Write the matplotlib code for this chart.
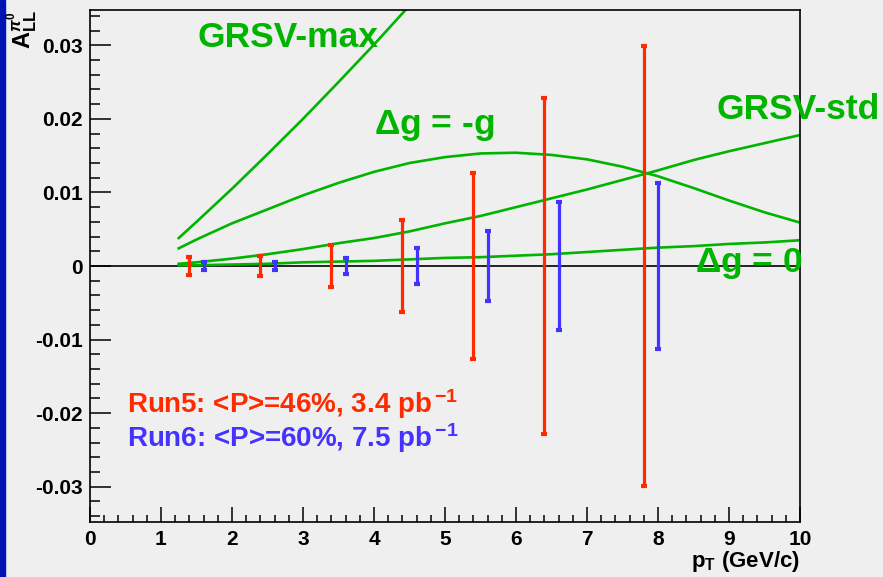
import matplotlib
matplotlib.use("Agg")
import matplotlib.pyplot as plt
from matplotlib.patches import Rectangle
from matplotlib.ticker import MultipleLocator


# theory curves
curve_pt = [1.25, 1.5, 2.0, 2.5, 3.0, 3.5, 4.0, 4.5, 5.0, 5.5,
            6.0, 6.5, 7.0, 7.5, 8.0, 8.5, 9.0, 9.5, 10.0]
grsv_max_pt = [1.25, 1.5, 2.0, 2.5, 3.0, 3.5, 4.0, 4.5]
grsv_max = [0.0038, 0.0060, 0.0105, 0.0152, 0.0200, 0.0250, 0.0301, 0.0354]
dg_minus_g = [0.0024, 0.0036, 0.0058, 0.0077, 0.0096, 0.0113, 0.0128, 0.0140, 0.0148, 0.0153,
              0.0154, 0.0151, 0.0145, 0.0135, 0.0122, 0.0106, 0.0089, 0.0073, 0.0059]
grsv_std = [0.0003, 0.0005, 0.0010, 0.0016, 0.0023, 0.0031, 0.0038, 0.0047, 0.0058, 0.0068,
            0.0080, 0.0092, 0.0104, 0.0117, 0.0130, 0.0144, 0.0156, 0.0167, 0.0178]
dg_zero = [0.0001, 0.0001, 0.0002, 0.0003, 0.0005, 0.0006, 0.0007, 0.0009, 0.0011, 0.0012,
           0.0014, 0.0016, 0.0019, 0.0022, 0.0025, 0.0027, 0.0030, 0.0032, 0.0035]

# projected uncertainties
run5_pt = [1.4, 2.4, 3.4, 4.4, 5.4, 6.4, 7.8]
run5_val = [0, 0, 0, 0, 0, 0, 0]
run5_err = [0.0012, 0.0013, 0.0028, 0.0063, 0.0126, 0.0229, 0.0299]
run6_pt = [1.6, 2.6, 3.6, 4.6, 5.6, 6.6, 8.0]
run6_val = [0, 0, 0, 0, 0, 0, 0]
run6_err = [0.00055, 0.0006, 0.0011, 0.0024, 0.0048, 0.0087, 0.0113]

run5_label = r"Run5: <P>=46%, 3.4 pb$^{\,\mathbf{-1}}$"
run6_label = r"Run6: <P>=60%, 7.5 pb$^{\,\mathbf{-1}}$"

GREEN = "#00b400"
RED = "#ff2a00"
BLUE = "#4433ff"
BG = "#efefef"

plt.rcParams["font.family"] = ["Liberation Sans", "DejaVu Sans"]
plt.rcParams["font.weight"] = "bold"
plt.rcParams["mathtext.fontset"] = "custom"
plt.rcParams["mathtext.rm"] = "Liberation Sans"
plt.rcParams["mathtext.bf"] = "Liberation Sans:bold"
plt.rcParams["mathtext.it"] = "Liberation Sans:italic"


def main():
    fig = plt.figure(figsize=(8.83, 5.77), dpi=100, facecolor=BG)
    ax = fig.add_axes([90 / 883, 55 / 577, 710 / 883, 512 / 577], facecolor=BG)

    fig.patches.append(Rectangle((0, 0), 5 / 883, 1, transform=fig.transFigure,
                                 color="#0014b4", zorder=0))

    ax.axhline(0, color="black", lw=1.2, zorder=1)

    lw = 1.9
    ax.plot(grsv_max_pt, grsv_max, color=GREEN, lw=lw, zorder=2)
    ax.plot(curve_pt, dg_minus_g, color=GREEN, lw=lw, zorder=2)
    ax.plot(curve_pt, grsv_std, color=GREEN, lw=lw, zorder=2)
    ax.plot(curve_pt, dg_zero, color=GREEN, lw=lw, zorder=2)

    ax.errorbar(run5_pt, run5_val, yerr=run5_err, fmt="none", ecolor=RED,
                elinewidth=2.3, capsize=2.2, capthick=3, zorder=3)
    ax.errorbar(run6_pt, run6_val, yerr=run6_err, fmt="none", ecolor=BLUE,
                elinewidth=2.3, capsize=2.2, capthick=3, zorder=3)

    ax.set_xlim(0, 10)
    ax.set_ylim(-0.0348, 0.0348)

    ax.xaxis.set_major_locator(MultipleLocator(1))
    ax.xaxis.set_minor_locator(MultipleLocator(0.2))
    ax.yaxis.set_major_locator(MultipleLocator(0.01))
    ax.yaxis.set_minor_locator(MultipleLocator(0.002))
    ax.set_yticks([-0.03, -0.02, -0.01, 0, 0.01, 0.02, 0.03])
    ax.set_yticklabels(["-0.03", "-0.02", "-0.01", "0", "0.01", "0.02", "0.03"])

    ax.tick_params(axis="x", which="major", direction="in", length=10.5, width=1.1,
                   labelsize=15, pad=6)
    ax.tick_params(axis="x", which="minor", direction="in", length=5, width=1.1)
    ax.tick_params(axis="y", which="major", direction="in", length=15, width=1.1,
                   labelsize=15, pad=5)
    ax.tick_params(axis="y", which="minor", direction="in", length=7.2, width=1.1)
    for lab in ax.get_xticklabels() + ax.get_yticklabels():
        lab.set_fontweight("bold")

    for s in ax.spines.values():
        s.set_linewidth(1.2)

    # curve labels
    big = 25.5
    ax.text(1.51, 0.0298, "GRSV-max", color=GREEN, fontsize=big, fontweight="bold",
            va="baseline")
    ax.text(4.0, 0.0180, r"$\Delta$g = -g", color=GREEN, fontsize=big, fontweight="bold",
            va="baseline")
    ax.text(8.83, 0.0200, "GRSV-std", color=GREEN, fontsize=big, fontweight="bold",
            va="baseline", clip_on=False)
    ax.text(8.52, -0.00086, r"$\Delta$g = 0", color=GREEN, fontsize=big, fontweight="bold",
            va="baseline")

    ax.text(0.52, -0.0200, run5_label, color=RED, fontsize=20, fontweight="bold",
            va="baseline")
    ax.text(0.52, -0.0246, run6_label, color=BLUE, fontsize=20, fontweight="bold",
            va="baseline")

    fig.text(800 / 883, 1 - 567 / 577, r"p$_{\mathbf{T}}$ (GeV/c)", fontsize=16,
             fontweight="bold", ha="right", va="baseline")
    fig.text(22 / 883, 1 - 10 / 577, r"A$_{\mathbf{LL}}^{\pi^{\mathbf{0}}}$", fontsize=17,
             fontweight="bold", rotation=90, ha="center", va="top")

    fig.savefig("out.png", dpi=100, facecolor=BG)
    plt.close(fig)


if __name__ == "__main__":
    main()
